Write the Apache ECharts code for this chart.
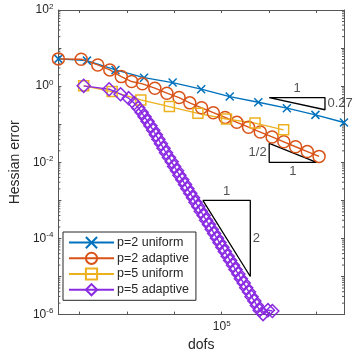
<!DOCTYPE html>
<html>
<head>
<meta charset="utf-8"/>
<title>Hessian error</title>
<style type="text/css">
*{margin:0;padding:0;}
html,body{width:357px;height:357px;background:#fff;}
#main{width:357px;height:357px;}
</style>
<script type="text/javascript" src="https://cdn.jsdelivr.net/npm/echarts@6/dist/echarts.min.js"></script>
</head>
<body>
<div id="main"></div>
<script type="text/javascript">
// p=2 uniform
var p2UniDofs = [36, 144, 576, 2304, 9216, 36864, 147456, 589824, 2359296, 9437184, 37748736];
var p2UniErr = [5.2, 4.68, 2.67, 1.67, 1.24, 0.832, 0.532, 0.379, 0.264, 0.176, 0.111];
// p=2 adaptive
var p2AdaDofs = [36, 109, 244, 437, 763, 1262, 2130, 3890, 6980, 12600, 21230, 37580, 66450, 117600, 208000, 367800, 650200, 1151000, 2035000, 3600000, 6368000, 11260000];
var p2AdaErr = [5.2, 5.1, 3.61, 2.67, 1.78, 1.32, 1.15, 0.883, 0.653, 0.501, 0.364, 0.270, 0.201, 0.151, 0.112, 0.0834, 0.0624, 0.0464, 0.0345, 0.0256, 0.0191, 0.0143];
// p=5 uniform
var p5UniDofs = [123, 490, 1970, 7880, 31500, 126000, 504000, 2016000];
var p5UniErr = [1.02, 0.719, 0.436, 0.291, 0.193, 0.137, 0.107, 0.0711];
// p=5 adaptive
var p5AdaDofs = [123, 423, 738, 1094, 1435, 1735, 2049, 2363, 2726, 3143, 3592, 4082, 4619, 5226, 5914,
	6690, 7720, 8810, 9890, 11420, 12790, 14700, 16830, 18900, 21700, 24800, 27900, 32100, 36200, 41600,
	46900, 53800, 61300, 69100, 79500, 89600, 102900, 116200, 133400, 150600, 172800, 195100, 223900,
	252800, 290100, 327600, 376100, 424700, 487300, 550800, 629200, 743000, 942400, 1167000];
var p5AdaErr = [1.02, 0.832, 0.615, 0.483, 0.357, 0.269, 0.205, 0.156, 0.119, 0.0907, 0.0691, 0.0526, 0.0401, 0.0306, 0.0233,
	0.0178, 0.0134, 0.0104, 0.00781, 0.00602, 0.00454, 0.00349, 0.00263, 0.00203, 0.00153, 0.00118, 0.000887, 0.000684, 0.000516, 0.000398,
	0.000299, 0.000231, 0.000174, 0.000134, 0.000101, 7.78e-5, 5.87e-5, 4.51e-5, 3.40e-5, 2.62e-5, 1.98e-5, 1.52e-5, 1.16e-5,
	8.74e-6, 6.73e-6, 5.08e-6, 3.91e-6, 2.95e-6, 2.27e-6, 1.73e-6, 1.31e-6, 1.03e-6, 1.31e-6, 1.24e-6];
// rate triangles (data units)
var triRate027 = [[1e6, 0.5], [1.5e7, 0.5], [1.5e7, 0.24], [1e6, 0.5]];
var triRateHalf = [[1e6, 0.0316], [1e6, 0.01], [1e7, 0.01], [1e6, 0.0316]];
var triRate2 = [[4e4, 1e-3], [4e5, 1e-3], [4e5, 1e-5], [4e4, 1e-3]];
var triLabels = [[3.9e6, 0.5, '1', 'top'], [1.5e7, 0.347, '0.27', 'right'], [1e6, 0.0178, '1/2', 'left'],
	[3.16e6, 0.01, '1', 'bottom'], [1.26e5, 1e-3, '1', 'top'], [4e5, 1e-4, '2', 'right']];
var minorMult = [2, 3, 4, 5, 6, 7, 8, 9];
var xMin = 36, xMax = 37748736, yMin = 1e-6, yMax = 100;

var FONT = 'Liberation Sans';
var TXT = '#262626';
var AX = '#555';

function zip(a, b){
	var out = [];
	for(var i = 0; i < a.length; i++){ out.push([a[i], b[i]]); }
	return out;
}
function expOf(v){ return Math.round(Math.log(v) / Math.LN10); }
var rich = {
	b: {fontSize: 12, color: TXT, fontFamily: FONT},
	s: {fontSize: 8, color: TXT, fontFamily: FONT, padding: [0, 0, 7, 0]}
};

var minorData = [];
for(var e = -6; e < 2; e++){
	for(var m = 0; m < minorMult.length; m++){
		minorData.push([xMin, minorMult[m] * Math.pow(10, e)]);
	}
}

function lineSeries(name, dofs, err, color, symbol, size){
	return {
		name: name, type: 'line', data: zip(dofs, err),
		symbol: symbol, symbolSize: size,
		lineStyle: {color: color, width: 1.4},
		itemStyle: {color: 'rgba(0,0,0,0)', borderColor: color, borderWidth: 1.5},
		emphasis: {disabled: true}, animation: false
	};
}
function triSeries(pts){
	return {
		type: 'line', data: pts, symbol: 'none', silent: true,
		lineStyle: {color: '#000', width: 1.3}, animation: false
	};
}

var chart = echarts.init(document.getElementById('main'), null, {renderer: 'canvas'});
var labelData = [];
for(var i = 0; i < triLabels.length; i++){
	labelData.push({
		value: [triLabels[i][0], triLabels[i][1]],
		label: {show: true, position: triLabels[i][3], distance: 2, formatter: triLabels[i][2],
			fontSize: 13, color: TXT, fontFamily: FONT}
	});
}

var axisCommon = {
	type: 'log', logBase: 10,
	axisLine: {show: true, lineStyle: {color: AX, width: 1}},
	axisTick: {show: true, inside: true, length: 3, lineStyle: {color: AX, width: 1}},
	splitLine: {show: false},
	minorTick: {show: false}
};

var option = {
	backgroundColor: '#fff',
	animation: false,
	grid: {left: 52, right: 13, top: 10, bottom: 42},
	legend: {
		data: ['p=2 uniform', 'p=2 adaptive', 'p=5 uniform', 'p=5 adaptive'],
		orient: 'vertical', left: 63, top: 232,
		itemWidth: 45, itemHeight: 14, itemGap: 2.5,
		padding: [4, 7, 4, 5],
		backgroundColor: '#fff', borderColor: '#262626', borderWidth: 1,
		textStyle: {fontSize: 12.5, color: TXT, fontFamily: FONT, padding: [0, 0, 0, -2]}
	},
	xAxis: [
		echarts.util.merge({
			min: xMin, max: xMax, splitNumber: 5, position: 'bottom',
			name: 'dofs', nameLocation: 'middle', nameGap: 22,
			nameTextStyle: {fontSize: 14, color: TXT, fontFamily: FONT},
			axisLabel: {
				margin: 5, rich: rich,
				formatter: function(v){
					return Math.abs(Math.log(v) / Math.LN10 - 5) < 1e-6 ? '{b|10}{s|5}' : '';
				}
			}
		}, axisCommon, true),
		echarts.util.merge({
			min: xMin, max: xMax, splitNumber: 5, position: 'top',
			axisLabel: {show: false}
		}, axisCommon, true)
	],
	yAxis: [
		echarts.util.merge({
			min: yMin, max: yMax, splitNumber: 5, position: 'left',
			name: 'Hessian error', nameLocation: 'middle', nameGap: 32,
			nameTextStyle: {fontSize: 14, color: TXT, fontFamily: FONT},
			axisLabel: {
				margin: 5, rich: rich,
				formatter: function(v){
					var e = expOf(v);
					return (e % 2 === 0) ? '{b|10}{s|' + e + '}' : '';
				}
			}
		}, axisCommon, true),
		echarts.util.merge({
			min: yMin, max: yMax, splitNumber: 5, position: 'right',
			axisLabel: {show: false}
		}, axisCommon, true)
	],
	series: [
		{
			type: 'custom', data: minorData, silent: true, animation: false,
			renderItem: function(params, api){
				var v = api.value(1);
				var pl = api.coord([xMin, v]);
				var pr = api.coord([xMax, v]);
				return {type: 'group', children: [
					{type: 'line', shape: {x1: pl[0], y1: pl[1], x2: pl[0] + 2, y2: pl[1]}, style: {stroke: AX, lineWidth: 1}},
					{type: 'line', shape: {x1: pr[0], y1: pr[1], x2: pr[0] - 2, y2: pr[1]}, style: {stroke: AX, lineWidth: 1}}
				]};
			}
		},
		triSeries(triRate027),
		triSeries(triRateHalf),
		triSeries(triRate2),
		{
			type: 'scatter', data: labelData, symbolSize: 1, silent: true,
			itemStyle: {color: 'rgba(0,0,0,0)'}, animation: false
		},
		lineSeries('p=2 uniform', p2UniDofs, p2UniErr, '#0072BD', 'path://M0,0L10,10M0,10L10,0', 8),
		lineSeries('p=2 adaptive', p2AdaDofs, p2AdaErr, '#D95319', 'circle', 12),
		lineSeries('p=5 uniform', p5UniDofs, p5UniErr, '#EDB120', 'rect', 10),
		lineSeries('p=5 adaptive', p5AdaDofs, p5AdaErr, '#8A2BE2', 'diamond', 13)
	]
};
chart.setOption(option);
</script>
</body>
</html>
